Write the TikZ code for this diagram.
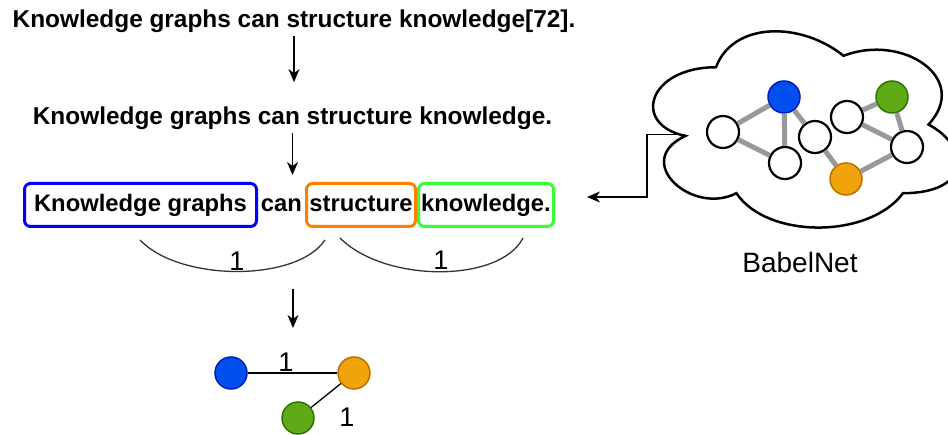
\documentclass[tikz,border=0pt]{standalone}
\usepackage{fontspec}
\setmainfont{Liberation Sans}
\usetikzlibrary{arrows.meta,calc}
\definecolor{boxblue}{HTML}{0000FF}
\definecolor{boxorange}{HTML}{FF8000}
\definecolor{boxgreen}{HTML}{33FF33}
\definecolor{nblue}{HTML}{0050EF}
\definecolor{nbluel}{HTML}{001DBC}
\definecolor{norange}{HTML}{F0A30A}
\definecolor{norangel}{HTML}{BD7000}
\definecolor{ngreen}{HTML}{60A917}
\definecolor{ngreenl}{HTML}{2D7600}
\definecolor{edgegray}{HTML}{999999}
\definecolor{arcgray}{HTML}{333333}
\tikzset{
  titletext/.style={font=\fontsize{24.4}{29}\selectfont\bfseries, inner sep=0pt, anchor=base},
  wordbox/.style={font=\fontsize{23.8}{28}\selectfont\bfseries, line width=3pt, rounded corners=6pt,
     minimum height=43pt, text height=18pt, text depth=5pt, inner sep=0pt},
  arr/.style={line width=1.3pt, draw=black, -{Stealth[length=13pt,width=11pt,inset=4pt]}},
  arcline/.style={line width=1.3pt, draw=arcgray},
  lbl/.style={font=\fontsize{27}{32}\selectfont, inner sep=0pt, anchor=base},
  gnode/.style={circle, minimum size=32pt, inner sep=0pt, line width=1.5pt},
  cnode/.style={circle, minimum size=32pt, inner sep=0pt, line width=2.2pt, draw=black, fill=white},
  gedge/.style={line width=5pt, draw=edgegray},
  sedge/.style={line width=1.3pt, draw=black},
}
\begin{document}
\begin{tikzpicture}[x=1pt,y=-1pt]
\useasboundingbox (0,0) rectangle (948,435);

% texts
\node[titletext] (t1) at (294,28) {Knowledge graphs can structure knowledge[72].};
\node[titletext] (t2) at (292.5,125) {Knowledge graphs can structure knowledge.};

% row 3
\node[wordbox, draw=boxblue, minimum width=232pt] (kg) at (140.5,205) {Knowledge graphs};
\node[wordbox, line width=0pt] (can) at (281.5,205) {can};
\node[wordbox, draw=boxorange, minimum width=109pt] (st) at (361,205) {structure};
\node[wordbox, draw=boxgreen, minimum width=135pt] (kn) at (486,205) {knowledge.};

% arrows
\draw[arr, shorten <=3pt, shorten >=25pt] (t1.south) -- (t1.south |- t2.north);
\draw[arr, shorten <=3pt, shorten >=7pt] (t2.south) -- (t2.south |- kg.north);

% arcs
\coordinate (a1s) at (140,240);
\coordinate (a1e) at (325,240);
\coordinate (a2s) at (340,238);
\coordinate (a2e) at (523,238);
\draw[arcline] (a1s) .. controls (180,282) and (297,282) .. (a1e);
\draw[arcline] (a2s) .. controls (385,283) and (500,283) .. (a2e);
\node[lbl] (l1) at (237,271) {1};
\node[lbl] (l2) at (441,270) {1};

% arrow 3
\coordinate (a3s) at (293,289);
\coordinate (a3e) at (293,328);
\draw[arr] (a3s) -- (a3e);

% bottom graph
\node[gnode, fill=nblue, draw=nbluel] (gb) at (231,373) {};
\node[gnode, fill=norange, draw=norangel] (go) at (354,373) {};
\node[gnode, fill=ngreen, draw=ngreenl] (gg) at (298,418) {};
\draw[sedge] (gb) -- (go);
\draw[sedge] (go) -- (gg);
\node[lbl] (l3) at (286,372) {1};
\node[lbl] (l4) at (347,427) {1};

% cloud
\draw[line width=2.5pt, fill=white]
  (716,67.25) .. controls (648,67.25) and (631,124.5) .. (685.4,135.95)
  .. controls (631,161.1) and (692.2,216.1) .. (736.4,193.2)
  .. controls (767,239) and (869,239) .. (903,193.2)
  .. controls (971,193.2) and (971,147.4) .. (928.5,124.5)
  .. controls (971,78.7) and (903,32.9) .. (843.5,55.8)
  .. controls (801,21.45) and (733,21.45) .. (716,67.25) -- cycle;
\coordinate (cl) at (685.4,134.5);
\coordinate (cltip) at (587,197);
\draw[arr, line width=1.2pt] (cl) -| ($(cltip)+(60,0)$) -- (cltip);

% cloud graph
\node[gnode, fill=nblue, draw=nbluel] (cb) at (784,97) {};
\node[cnode] (cA) at (723,132) {};
\node[cnode] (cB) at (785,163) {};
\node[cnode] (cC) at (815,137) {};
\node[cnode] (cD) at (847,117) {};
\node[gnode, fill=ngreen, draw=ngreenl] (cg) at (892,97) {};
\node[cnode] (cE) at (907,147) {};
\node[gnode, fill=norange, draw=norangel] (co) at (846,179) {};
\draw[gedge] (cb) -- (cA);
\draw[gedge] (cA) -- (cB);
\draw[gedge] (cb) -- (cB);
\draw[gedge] (cb) -- (cC);
\draw[gedge] (cC) -- (co);
\draw[gedge] (cD) -- (cg);
\draw[gedge] (cD) -- (cE);
\draw[gedge] (cg) -- (cE);
\draw[gedge] (cE) -- (co);

\node[font=\fontsize{28}{33}\selectfont, inner sep=0pt, anchor=base] (bn) at (800,273) {BabelNet};
\end{tikzpicture}
\end{document}
